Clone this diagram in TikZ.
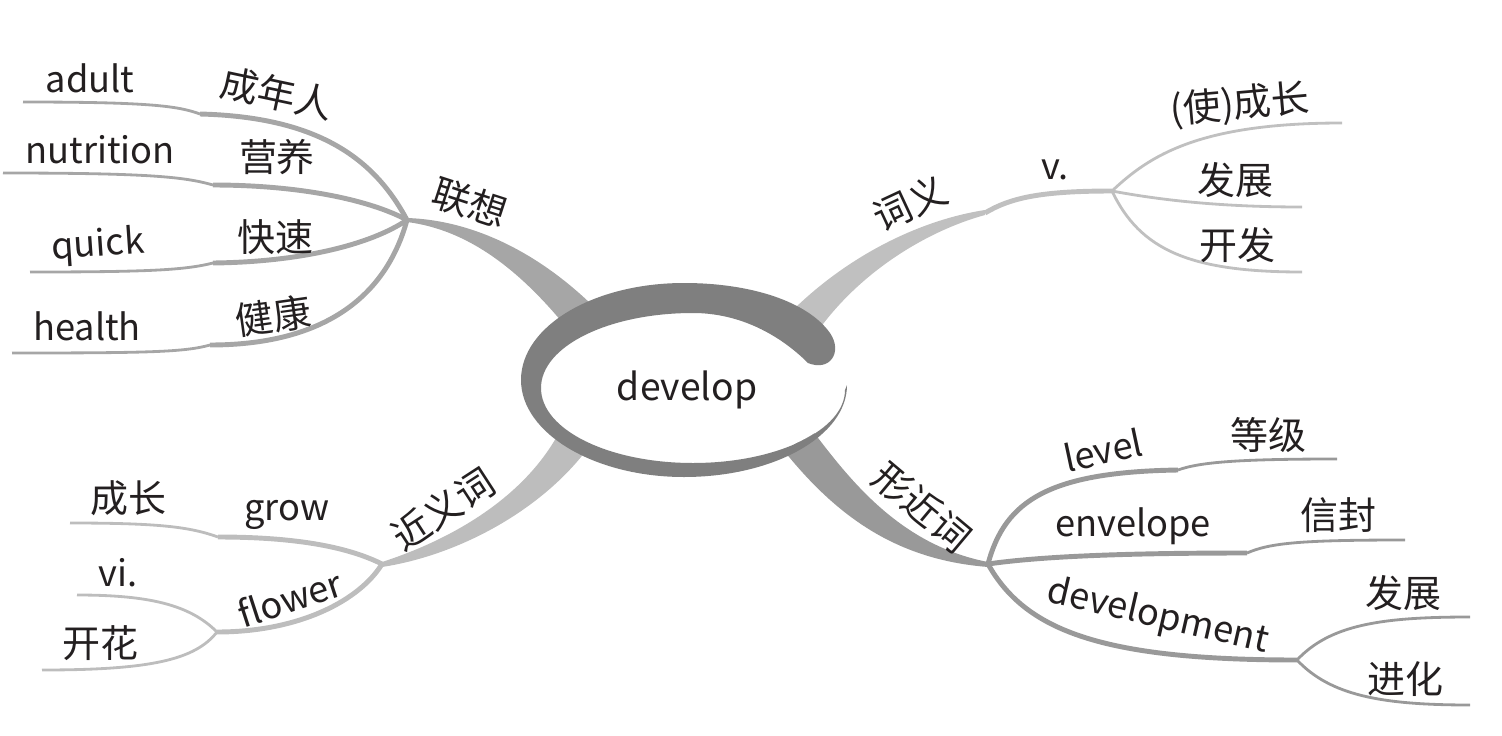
\documentclass[tikz,border=0pt]{standalone}
\usepackage{fontspec}
\setmainfont{Noto Sans CJK SC}
\usetikzlibrary{positioning, calc}
\definecolor{ringgray}{HTML}{7F7F7F}
\definecolor{assocgray}{HTML}{A6A6A6}
\definecolor{meangray}{HTML}{C0C0C0}
\definecolor{syngray}{HTML}{BDBDBD}
\definecolor{formgray}{HTML}{999999}
\definecolor{inkblack}{HTML}{231F20}
\tikzset{
  word/.style={
    font=\fontsize{10.8pt}{13pt}\selectfont,
    text=inkblack, inner sep=0pt
  },
  latin/.style={word, font=\fontsize{10.3pt}{13pt}\selectfont},
  core/.style={word, font=\fontsize{10.6pt}{13pt}\selectfont},
  twig/.style={line width=1.4pt},
  leaf/.style={line width=0.8pt},
}

\begin{document}
\begin{tikzpicture}[x=0.01cm, y=-0.01cm]
  \useasboundingbox (0,0) rectangle (1502,736);

  % junctions of the four main branches
  \coordinate (lianxiang) at (407,220);
  \coordinate (ciyi) at (985,213);
  \coordinate (jinyici) at (382,564);
  \coordinate (xingjinci) at (988,564);

  % main branches (tapered, under the ring)
  \fill[assocgray] ($(lianxiang)+(0,-2)$) .. controls (470,220) and (535,250) .. (592,305)
    -- (562,322) .. controls (520,272) and (470,230) .. ($(lianxiang)+(0,2)$) -- cycle;
  \fill[meangray] (795,308) .. controls (850,255) and (920,220) .. ($(ciyi)+(0,-3)$)
    -- ($(ciyi)+(0,2)$) .. controls (930,230) and (860,270) .. (815,335) -- cycle;
  \fill[syngray] ($(jinyici)+(0,-2)$) .. controls (450,540) and (520,500) .. (556,438)
    -- (585,452) .. controls (540,510) and (460,555) .. ($(jinyici)+(0,3)$) -- cycle;
  \fill[formgray] (812,430) .. controls (850,480) and (900,545) .. ($(xingjinci)+(0,-2)$)
    -- ($(xingjinci)+(0,3)$) .. controls (900,560) and (840,520) .. (785,452) -- cycle;

  % centre
  \fill[white] (693,388) ellipse [x radius=152, y radius=75];
  \fill[ringgray] (847,385) .. controls (847,436) and (774,477) .. (684,477)
    .. controls (594,477) and (521,433) .. (521,380)
    .. controls (521,326) and (594,283) .. (684,283)
    .. controls (752,283) and (808,302) .. (830,333)
    .. controls (843,352) and (830,372) .. (808,363)
    .. controls (780,335) and (740,313) .. (693,313)
    .. controls (609,313) and (541,346) .. (541,388)
    .. controls (541,430) and (609,463) .. (693,463)
    .. controls (777,463) and (845,430) .. (845,390) -- cycle;
  \node[core] (develop) at (687,390) {develop};

  % 联想
  \coordinate (chengnian) at (200,114);
  \coordinate (yingyang) at (213,185);
  \coordinate (kuaisu) at (213,263);
  \coordinate (jiankang) at (210,345);
  \coordinate (adult) at (23,102);
  \coordinate (nutrition) at (3,173);
  \coordinate (quick) at (30,272);
  \coordinate (health) at (12,353);
  \draw[assocgray, twig] (lianxiang) .. controls (375,160) and (320,117) .. (chengnian);
  \draw[assocgray, twig] (lianxiang) .. controls (370,200) and (300,185) .. (yingyang);
  \draw[assocgray, twig] (lianxiang) .. controls (370,245) and (300,262) .. (kuaisu);
  \draw[assocgray, twig] (lianxiang) .. controls (385,300) and (320,345) .. (jiankang);
  \draw[assocgray, leaf] (chengnian) .. controls (178,106) and (150,102) .. (adult);
  \draw[assocgray, leaf] (yingyang) .. controls (185,177) and (150,173) .. (nutrition);
  \draw[assocgray, leaf] (kuaisu) .. controls (185,270) and (150,272) .. (quick);
  \draw[assocgray, leaf] (jiankang) .. controls (185,352) and (150,353) .. (health);
  \node[word, rotate=-18] (lianxiang-t) at (470,203) {联想};
  \node[word, rotate=-12] (chengnian-t) at (277,93) {成年人};
  \node[word] (yingyang-t) at (277,157) {营养};
  \node[word] (kuaisu-t) at (275,237) {快速};
  \node[word, rotate=8] (jiankang-t) at (273,316) {健康};
  \node[latin] (adult-t) at (90,78) {adult};
  \node[latin] (nutrition-t) at (100,150) {nutrition};
  \node[latin, rotate=4] (quick-t) at (98,246) {quick};
  \node[latin] (health-t) at (87,326) {health};

  % 词义
  \coordinate (verb) at (1112,191);
  \coordinate (chengzhang) at (1342,123);
  \coordinate (fazhan) at (1302,207);
  \coordinate (kaifa) at (1302,272);
  \draw[meangray, twig] (ciyi) .. controls (1010,198) and (1040,191) .. (verb);
  \draw[meangray, leaf] (verb) .. controls (1150,155) and (1200,123) .. (chengzhang);
  \draw[meangray, leaf] (verb) .. controls (1160,200) and (1220,207) .. (fazhan);
  \draw[meangray, leaf] (verb) .. controls (1140,250) and (1190,272) .. (kaifa);
  \node[word, rotate=25] (ciyi-t) at (910,203) {词义};
  \node[latin] (verb-t) at (1055,170) {v.};
  \node[word, rotate=5] (chengzhang-t) at (1240,105) {(使)成长};
  \node[word] (fazhan-t) at (1235,180) {发展};
  \node[word] (kaifa-t) at (1237,245) {开发};

  % 近义词
  \coordinate (grow) at (218,537);
  \coordinate (flower) at (217,632);
  \coordinate (chengzhang2) at (70,523);
  \coordinate (vi) at (77,595);
  \coordinate (kaihua) at (42,670);
  \draw[syngray, twig] (jinyici) .. controls (350,548) and (300,537) .. (grow);
  \draw[syngray, twig] (jinyici) .. controls (360,600) and (300,632) .. (flower);
  \draw[syngray, leaf] (grow) .. controls (190,527) and (160,523) .. (chengzhang2);
  \draw[syngray, leaf] (flower) .. controls (190,605) and (150,595) .. (vi);
  \draw[syngray, leaf] (flower) .. controls (195,660) and (150,670) .. (kaihua);
  \node[word, rotate=33] (jinyici-t) at (443,509) {近义词};
  \node[latin] (grow-t) at (287,515) {grow};
  \node[latin, rotate=18] (flower-t) at (290,598) {flower};
  \node[word] (chengzhang2-t) at (128,498) {成长};
  \node[latin] (vi-t) at (118,573) {vi.};
  \node[word] (kaihua-t) at (100,643) {开花};

  % 形近词
  \coordinate (level) at (1178,470);
  \coordinate (envelope) at (1247,553);
  \coordinate (development) at (1297,660);
  \coordinate (dengji) at (1337,459);
  \coordinate (xinfeng) at (1405,540);
  \coordinate (fazhan2) at (1470,617);
  \coordinate (jinhua) at (1470,705);
  \draw[formgray, twig] (xingjinci) .. controls (1005,500) and (1050,472) .. (level);
  \draw[formgray, twig] (xingjinci) .. controls (1050,555) and (1150,553) .. (envelope);
  \draw[formgray, twig] (xingjinci) .. controls (1025,630) and (1100,660) .. (development);
  \draw[formgray, leaf] (level) .. controls (1200,462) and (1240,459) .. (dengji);
  \draw[formgray, leaf] (envelope) .. controls (1270,543) and (1300,540) .. (xinfeng);
  \draw[formgray, leaf] (development) .. controls (1330,625) and (1380,617) .. (fazhan2);
  \draw[formgray, leaf] (development) .. controls (1330,695) and (1380,705) .. (jinhua);
  \node[word, rotate=-40] (xingjinci-t) at (922,507) {形近词};
  \node[latin, rotate=12] (level-t) at (1103,450) {level};
  \node[latin] (envelope-t) at (1133,526) {envelope};
  \node[latin, rotate=-13] (development-t) at (1158,617) {development};
  \node[word] (dengji-t) at (1268,435) {等级};
  \node[word] (xinfeng-t) at (1338,515) {信封};
  \node[word] (fazhan2-t) at (1403,593) {发展};
  \node[word] (jinhua-t) at (1405,679) {进化};
\end{tikzpicture}
\end{document}
